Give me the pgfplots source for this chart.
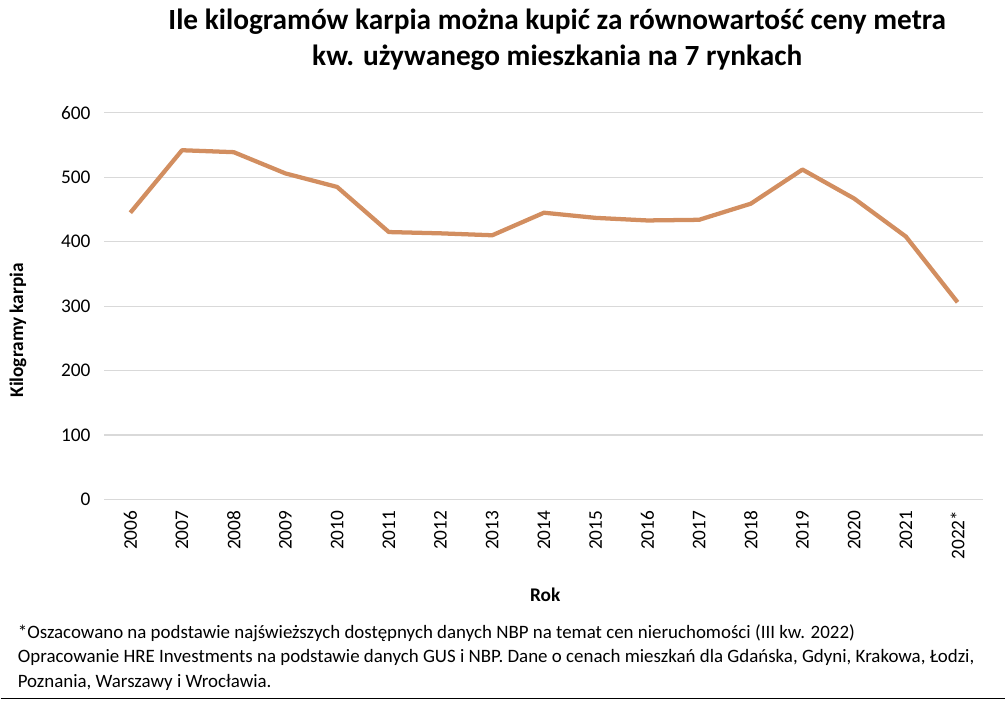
\documentclass[border=0pt]{standalone}
\usepackage{pgfplots}
\pgfplotsset{compat=1.18}
\usepackage{fontspec}
\setmainfont{Carlito}
\definecolor{carp}{RGB}{210,142,96}
\definecolor{gridgray}{RGB}{217,217,217}
\begin{document}
\begin{tikzpicture}
% invisible frame: 1 px of the reference = 0.75pt
\path (-78pt,-150.75pt) rectangle (676.5pt,375pt);
\begin{axis}[
    at={(0,0)}, anchor=south west,
    scale only axis,
    width=660pt, height=290.25pt,
    xmin=-0.5, xmax=16.5,
    ymin=0, ymax=600,
    axis line style={draw=none},
    ymajorgrids, grid style={gridgray, line width=0.9pt},
    ytick={0,100,...,600},
    xtick={0,...,16},
    xticklabels={2006,2007,2008,2009,2010,2011,2012,2013,2014,2015,2016,2017,2018,2019,2020,2021,2022*},
    major tick length=0pt,
    tick label style={font=\fontsize{14.5}{16}\selectfont},
    /pgf/number format/assume math mode=true,
    x tick label style={rotate=90, anchor=east, xshift=-5pt},
    y tick label style={xshift=-7pt},
    clip=false,
]
\addplot[carp, line width=3.2pt, line join=round] coordinates {
    (0,445) (1,542) (2,539) (3,506) (4,485) (5,415) (6,413) (7,410)
    (8,445) (9,437) (10,433) (11,434) (12,459) (13,512) (14,467) (15,408) (16,306)
};
\end{axis}
\node[font=\bfseries\fontsize{22}{27}\selectfont, align=center] at (340pt,345pt)
    {Ile kilogramów karpia można kupić za równowartość ceny metra\\kw. używanego mieszkania na 7 rynkach};
\node[font=\bfseries\fontsize{14.5}{16}\selectfont, rotate=90] at (-65pt,127pt) {Kilogramy karpia};
\node[font=\bfseries\fontsize{14.5}{16}\selectfont] at (331pt,-72pt) {Rok};
\node[font=\fontsize{14.2}{18.2}\selectfont, align=left, anchor=north west, inner sep=0pt] at (-65.25pt,-94pt)
    {*Oszacowano na podstawie najświeższych dostępnych danych NBP na temat cen nieruchomości (III kw. 2022)\\
     Opracowanie HRE Investments na podstawie danych GUS i NBP. Dane o cenach mieszkań dla Gdańska, Gdyni, Krakowa, Łodzi,\\
     Poznania, Warszawy i Wrocławia.};
\draw[black, line width=0.9pt] (-78pt,-149.25pt) -- (676.5pt,-149.25pt);
\end{tikzpicture}
\end{document}
